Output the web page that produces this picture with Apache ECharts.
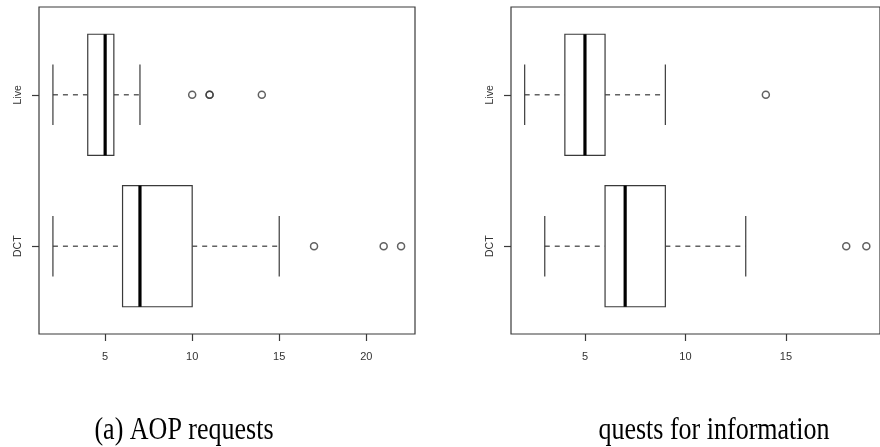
<!DOCTYPE html>
<html>
<head>
<meta charset="utf-8">
<script src="https://cdn.jsdelivr.net/npm/echarts@6/dist/echarts.min.js"></script>
<style>
html,body{margin:0;padding:0;background:#fff;}
#chart{width:880px;height:447px;}
</style>
</head>
<body>
<div id="chart"></div>
<script>
// ---- data ----
var groupNames = ['DCT', 'Live'];          // y positions 1, 2 (R order: first level at bottom)
// five-number summaries: [lower whisker, Q1, median, Q3, upper whisker]
var aopDCT = [2, 6, 7, 10, 15];
var aopLive = [2, 4, 5, 5.5, 7];
var aopOutDCT = [17, 21, 22];
var aopOutLive = [10, 11, 11, 14];
var infoDCT = [3, 6, 7, 9, 13];
var infoLive = [2, 4, 5, 6, 9];
var infoOutDCT = [18, 19];
var infoOutLive = [14];
var aopTicks = [5, 10, 15, 20];
var infoTicks = [5, 10, 15];
var groupTicks = [1, 2];
var captionA = '(a) AOP requests';
var captionB = 'quests for information';

var LINE = '#3a3a3a';

function boxData(dct, live) {
  return [[1].concat(dct), [2].concat(live)];
}
function outData(dctOut, liveOut) {
  var d = [];
  dctOut.forEach(function (v) { d.push([v, 1]); });
  liveOut.forEach(function (v) { d.push([v, 2]); });
  return d;
}

function renderBox(params, api) {
  var y = api.value(0);
  var lo = api.value(1), q1 = api.value(2), md = api.value(3), q3 = api.value(4), hi = api.value(5);
  var c = function (x) { return api.coord([x, y]); };
  var half = api.size([0, 0.4])[1];
  var cap = half / 2;
  var pLo = c(lo), pQ1 = c(q1), pMd = c(md), pQ3 = c(q3), pHi = c(hi);
  var cy = pLo[1];
  var dash = { stroke: LINE, lineWidth: 1.2, lineDash: [5, 5] };
  var solid = { stroke: LINE, lineWidth: 1.2, fill: null };
  return {
    type: 'group',
    children: [
      { type: 'line', shape: { x1: pLo[0], y1: cy, x2: pQ1[0], y2: cy }, style: dash },
      { type: 'line', shape: { x1: pQ3[0], y1: cy, x2: pHi[0], y2: cy }, style: dash },
      { type: 'line', shape: { x1: pLo[0], y1: cy - cap, x2: pLo[0], y2: cy + cap }, style: solid },
      { type: 'line', shape: { x1: pHi[0], y1: cy - cap, x2: pHi[0], y2: cy + cap }, style: solid },
      { type: 'rect', shape: { x: pQ1[0], y: cy - half, width: pQ3[0] - pQ1[0], height: 2 * half }, style: { stroke: LINE, lineWidth: 1.2, fill: '#fff' } },
      { type: 'line', shape: { x1: pMd[0], y1: cy - half, x2: pMd[0], y2: cy + half }, style: { stroke: '#000', lineWidth: 3.2 } }
    ]
  };
}

function xAxisCfg(idx, min, max, ticks) {
  return {
    type: 'value', gridIndex: idx, min: min, max: max,
    splitLine: { show: false },
    axisLine: { show: false },
    axisTick: { show: true, length: 7, inside: false, customValues: ticks, lineStyle: { color: LINE, width: 1.2 } },
    axisLabel: { show: true, customValues: ticks, margin: 17, color: '#333', fontSize: 11, fontFamily: 'Liberation Sans, Arial, sans-serif' }
  };
}
function yAxisCfg(idx) {
  return {
    type: 'value', gridIndex: idx, min: 0.42, max: 2.58,
    splitLine: { show: false },
    axisLine: { show: false },
    axisTick: { show: true, length: 7, customValues: groupTicks, lineStyle: { color: LINE, width: 1.2 } },
    axisLabel: {
      show: true, customValues: groupTicks, rotate: 90, margin: 15, color: '#333', fontSize: 10.5,
      fontFamily: 'Liberation Sans, Arial, sans-serif',
      formatter: function (v) { return groupNames[Math.round(v) - 1] || ''; }
    }
  };
}

var chart = echarts.init(document.getElementById('chart'), null, { renderer: 'canvas' });
chart.setOption({
  animation: false,
  backgroundColor: '#fff',
  grid: [
    { left: 39, top: 7, width: 376, height: 327, show: true, borderColor: LINE, borderWidth: 1.2, backgroundColor: 'transparent' },
    { left: 511, top: 7, width: 374, height: 327, show: true, borderColor: LINE, borderWidth: 1.2, backgroundColor: 'transparent' }
  ],
  xAxis: [xAxisCfg(0, 1.2, 22.8, aopTicks), xAxisCfg(1, 1.32, 19.68, infoTicks)],
  yAxis: [yAxisCfg(0), yAxisCfg(1)],
  series: [
    { type: 'custom', xAxisIndex: 0, yAxisIndex: 0, renderItem: renderBox, encode: { x: [1, 2, 3, 4, 5], y: 0 }, data: boxData(aopDCT, aopLive), silent: true },
    { type: 'custom', xAxisIndex: 1, yAxisIndex: 1, renderItem: renderBox, encode: { x: [1, 2, 3, 4, 5], y: 0 }, data: boxData(infoDCT, infoLive), silent: true },
    { type: 'scatter', xAxisIndex: 0, yAxisIndex: 0, symbol: 'circle', symbolSize: 7, itemStyle: { color: 'transparent', borderColor: LINE, borderWidth: 1.5 }, data: outData(aopOutDCT, aopOutLive), silent: true },
    { type: 'scatter', xAxisIndex: 1, yAxisIndex: 1, symbol: 'circle', symbolSize: 7, itemStyle: { color: 'transparent', borderColor: LINE, borderWidth: 1.5 }, data: outData(infoOutDCT, infoOutLive), silent: true }
  ],
  graphic: [
    { type: 'text', x: 184, y: 430.5, scaleY: 1.2, style: { text: captionA, font: '26px "Liberation Serif", "Times New Roman", serif', fill: '#000', textAlign: 'center', textVerticalAlign: 'middle' } },
    { type: 'text', x: 714, y: 430.5, scaleY: 1.2, style: { text: captionB, font: '26px "Liberation Serif", "Times New Roman", serif', fill: '#000', textAlign: 'center', textVerticalAlign: 'middle' } }
  ]
});
</script>
</body>
</html>
